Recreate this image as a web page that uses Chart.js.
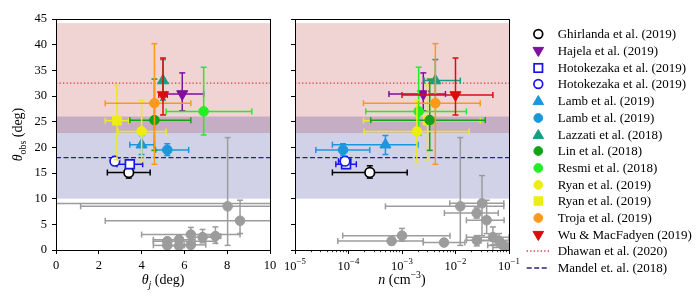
<!DOCTYPE html>
<html>
<head>
<meta charset="utf-8">
<title>theta_obs vs theta_j and n</title>
<script src="https://cdn.jsdelivr.net/npm/chart.js@4.4.1/dist/chart.umd.min.js"></script>
<style>
  html, body { margin:0; padding:0; background:#fff; }
  #wrap { position:relative; width:698px; height:305px; overflow:hidden; }
  #wrap canvas { position:absolute; top:0; }
  #left { left:0; }
  #right { left:270px; }
  #legend { position:absolute; left:520px; top:0; width:178px; height:305px;
            font-family:'Liberation Serif','DejaVu Serif',serif; font-size:13px; color:#000; }
  .row { position:absolute; left:0; width:178px; height:16px; }
  .row svg { position:absolute; left:0; top:0; }
  .row span { position:absolute; left:37.7px; top:0; line-height:16px; white-space:nowrap; }
</style>
</head>
<body>
<div id="wrap">
  <canvas id="left" width="282" height="305"></canvas>
  <canvas id="right" width="258" height="305"></canvas>
  <div id="legend"></div>
</div>
<script>
// GW170817 viewing angle estimates: theta_obs vs jet angle and vs density
const studies = ['Ghirlanda et al. (2019)', 'Hajela et al. (2019)', 'Hotokezaka et al. (2019)',
  'Hotokezaka et al. (2019)', 'Lamb et al. (2019)', 'Lamb et al. (2019)', 'Lazzati et al. (2018)',
  'Lin et al. (2018)', 'Resmi et al. (2018)', 'Ryan et al. (2019)', 'Ryan et al. (2019)',
  'Troja et al. (2019)', 'Wu & MacFadyen (2019)'];

const thetaJ     = [3.4, 5.9, 3.45, 2.75, 4.0, 5.2, 5.0, 4.6, 6.9, 4.0, 2.85, 4.6, 5.0];
const thetaJLo   = [2.4, 5.15, 2.85, 2.65, 3.45, 4.65, null, 3.45, 5.15, 2.9, 2.3, 2.3, 4.8];
const thetaJHi   = [4.4, 6.9, 4.05, 2.85, 4.6, 6.2, null, 6.3, 9.15, 5.15, 3.4, 6.3, 5.2];
const thetaObs   = [15.1, 30.4, 16.7, 17.3, 20.5, 19.5, 33.0, 25.3, 27.0, 23.1, 25.2, 28.6, 30.2];
const thetaObsLo = [14.0, 27.1, 15.9, 16.8, 18.6, 18.4, 29.2, 19.4, 22.4, 17.2, 17.6, 16.7, 26.3];
const thetaObsHi = [16.4, 34.5, 17.6, 18.2, 22.3, 20.7, 37.1, 33.3, 35.6, 29.2, 32.1, 40.2, 37.4];
const density    = [2.5e-4, 2.5e-3, 9.0e-5, 8.6e-5, 4.9e-4, 7.9e-5, 4.2e-3, 3.3e-3, 2.05e-3, 1.9e-3, 3.0e-3, 4.2e-3, 1.0e-2];
const densityLo  = [5.0e-5, 5.7e-4, 5.8e-5, 6.5e-5, 5.0e-5, 2.45e-5, 2.6e-3, 2.6e-4, 2.1e-4, 1.95e-4, 1.9e-4, 1.9e-4, 1.0e-3];
const densityHi  = [1.25e-3, 6.5e-3, 1.4e-4, 1.1e-4, 2.0e-3, 2.5e-4, 1.23e-2, 3.6e-2, 1.6e-2, 1.8e-2, 2.9e-2, 2.9e-2, 5.0e-2];

// grey sample (left panel)
const greyJ      = [8.02, 14.0, 8.6, 6.3, 6.85, 7.45, 5.2, 5.75, 6.3, 5.2, 5.75];
const greyJLo    = [1.15, -1.0, 2.3, 4.0, 6.3, 6.9, 4.55, 4.55, 5.6, 4.55, 5.2];
const greyJHi    = [14.0, 30.0, 12.0, 8.6, 7.5, 7.7, 7.5, 6.5, 7.0, 6.0, 6.3];
const greyObsL   = [8.5, 9.05, 5.7, 3.0, 2.5, 2.7, 1.7, 2.0, 1.0, 0.9, 0.8];
const greyObsLLo = [0.9, 6.5, 3.2, 1.5, 1.4, 1.3, 0.8, 1.0, 0.3, 0.3, 0.2];
const greyObsLHi = [21.9, 14.5, 9.7, 4.4, 4.0, 4.5, 2.4, 2.8, 1.6, 1.5, 1.4];
// grey sample (right panel)
const greyN      = [0.0123, 0.0313, 0.0249, 0.0382, 1.0e-3, 6.4e-4, 6.1e-3, 0.025, 0.05, 0.065, 0.078, 0.09];
const greyNLo    = [4.9e-4, 7.8e-3, 6.2e-3, 1.6e-2, 7.8e-5, 6.3e-5, 2.5e-3, 1.6e-2, 1.6e-2, 3.0e-2, 4.0e-2, 5.0e-2];
const greyNHi    = [8.0e-2, 8.0e-2, 6.3e-2, 8.1e-2, 7.9e-3, 2.5e-3, 1.5e-2, 0.1, 0.1, 0.2, 0.2, 0.2];
const greyObsR   = [8.5, 9.1, 7.2, 5.8, 2.8, 1.76, 1.45, 1.9, 2.5, 1.8, 0.9, 0.5];
const greyObsRLo = [0.9, 2.8, 6.2, 3.2, 1.7, 1.0, 0.8, 0.8, 1.0, 0.8, 0.2, 0.1];
const greyObsRHi = [21.9, 14.5, 8.2, 9.7, 4.2, 2.5, 2.2, 2.8, 4.5, 3.2, 1.6, 1.2];

// reference bands [lo, value, hi]
const dhawanBand = [22.8, 32.5, 44.2];
const mandelBand = [10.0, 18.0, 26.0];

const thetaJTicks   = [0, 2, 4, 6, 8, 10];
const thetaObsTicks = [0, 5, 10, 15, 20, 25, 30, 35, 40, 45];
const densityTicks  = [1e-5, 1e-4, 1e-3, 1e-2, 1e-1];

// styles
const colors  = ['#000000', '#7f0f9f', '#1616e8', '#1616e8', '#1b97dc', '#1b97dc', '#189e83',
                 '#15a315', '#22ee22', '#eded12', '#eded12', '#fb991b', '#dc0c0c'];
const markers = ['circle', 'tridown', 'rect', 'circle', 'triangle', 'circle', 'triangle',
                 'circle', 'circle', 'circle', 'rect', 'circle', 'tridown'];
const hollow  = [true, false, true, true, false, false, false, false, false, false, false, false, false];
// drawing layer (higher = drawn earlier / further back)
const layer   = [13, 12, 11, 10, 9, 8, 7, 6, 5, 4, 6.5, 2, 1];
const GREY = '#9c9c9c';
const DHAWAN_C = '#d23a3a';
const MANDEL_C = '#25257a';
const SERIF = "'Liberation Serif', 'DejaVu Serif', serif";

Chart.defaults.font.family = SERIF;
Chart.defaults.font.size = 12.5;
Chart.defaults.color = '#000';

function markerOpts(i){
  const m = markers[i];
  const style = m === 'tridown' ? 'triangle' : m;
  const r = m === 'circle' ? 4.8 : (m === 'rect' ? 6.2 : 6.4);
  return {
    pointStyle: style,
    pointRotation: m === 'tridown' ? 180 : 0,
    pointRadius: r,
    pointHoverRadius: r,
    pointBackgroundColor: hollow[i] ? '#ffffff' : colors[i],
    pointBorderColor: colors[i],
    pointBorderWidth: hollow[i] ? 1.7 : 1
  };
}

function buildDatasets(xs, xLo, xHi, gx, gxLo, gxHi, gy, gyLo, gyHi, xMin, xMax){
  const sets = [];
  sets.push({ type:'line', label:'Dhawan et al. (2020)', data:[{x:xMin, y:dhawanBand[1]}, {x:xMax, y:dhawanBand[1]}],
    borderColor: DHAWAN_C, borderWidth:1.3, borderDash:[1.3, 2.2], pointRadius:0, order:100 });
  sets.push({ type:'line', label:'Mandel et. al. (2018)', data:[{x:xMin, y:mandelBand[1]}, {x:xMax, y:mandelBand[1]}],
    borderColor: MANDEL_C, borderWidth:1.3, borderDash:[5, 2.5], pointRadius:0, order:99 });
  sets.push({
    label:'sample',
    data: gx.map((v, k) => ({x:v, y:gy[k], xLo:gxLo[k], xHi:gxHi[k], yLo:gyLo[k], yHi:gyHi[k]})),
    errorBars:true, errorColor:GREY,
    pointStyle:'circle', pointRadius:4.8, pointHoverRadius:4.8,
    pointBackgroundColor:GREY, pointBorderColor:GREY, pointBorderWidth:1,
    order:50, clip:0
  });
  studies.forEach((name, i) => {
    sets.push(Object.assign({
      label:name,
      data:[{x:xs[i], y:thetaObs[i], xLo:xLo[i], xHi:xHi[i], yLo:thetaObsLo[i], yHi:thetaObsHi[i]}],
      errorBars:true, errorColor:colors[i],
      order: layer[i], clip:0
    }, markerOpts(i)));
  });
  return sets;
}

function clipTo(ctx, a){
  ctx.beginPath(); ctx.rect(a.left, a.top, a.right - a.left, a.bottom - a.top); ctx.clip();
}

const bandsPlugin = {
  id:'bands',
  beforeDatasetsDraw(chart){
    const {ctx, chartArea:a, scales:{y}} = chart;
    ctx.save();
    clipTo(ctx, a);
    const band = (b, fill) => {
      const t = y.getPixelForValue(b[2]), btm = y.getPixelForValue(b[0]);
      ctx.fillStyle = fill;
      ctx.fillRect(a.left, t, a.right - a.left, btm - t);
    };
    band(dhawanBand, 'rgba(178,34,34,0.2)');
    band(mandelBand, 'rgba(0,0,128,0.18)');
    ctx.restore();
  }
};

const errorBarPlugin = {
  id:'errorBars',
  beforeDatasetDraw(chart, args){
    const ds = chart.data.datasets[args.index];
    if(!ds.errorBars) return;
    const {ctx, chartArea:a, scales:{x, y}} = chart;
    const cap = 3;
    ctx.save();
    clipTo(ctx, a);
    ctx.strokeStyle = ds.errorColor;
    ctx.lineWidth = 1.5;
    const seg = (x0, y0, x1, y1) => { ctx.beginPath(); ctx.moveTo(x0, y0); ctx.lineTo(x1, y1); ctx.stroke(); };
    ds.data.forEach(p => {
      const px = x.getPixelForValue(p.x), py = y.getPixelForValue(p.y);
      if(p.xLo != null){
        const x0 = x.getPixelForValue(p.xLo), x1 = x.getPixelForValue(p.xHi);
        seg(x0, py, x1, py);
        seg(x0, py - cap, x0, py + cap);
        seg(x1, py - cap, x1, py + cap);
      }
      if(p.yLo != null){
        const y0 = y.getPixelForValue(p.yLo), y1 = y.getPixelForValue(p.yHi);
        seg(px, y0, px, y1);
        seg(px - cap, y0, px + cap, y0);
        seg(px - cap, y1, px + cap, y1);
      }
    });
    ctx.restore();
  }
};

// draws text with italic / sub / superscript parts
function drawRich(ctx, parts, cx, baseY, size){
  const fontOf = p => `${p.it ? 'italic ' : ''}${(p.sub || p.sup) ? size * 0.7 : size}px ${SERIF}`;
  let total = 0;
  parts.forEach(p => { ctx.font = fontOf(p); p.w = ctx.measureText(p.t).width; total += p.w; });
  let x = cx - total / 2;
  ctx.textAlign = 'left';
  ctx.textBaseline = 'alphabetic';
  parts.forEach(p => {
    ctx.font = fontOf(p);
    const dy = p.sub ? size * 0.28 : (p.sup ? -size * 0.42 : 0);
    ctx.fillText(p.t, x, baseY + dy);
    x += p.w;
  });
}

const framePlugin = {
  id:'frame',
  afterDraw(chart, args, opts){
    const {ctx, chartArea:a} = chart;
    const al = v => Math.round(v - 0.5) + 0.5;
    ctx.save();
    ctx.strokeStyle = '#000';
    ctx.lineWidth = 1;
    ctx.strokeRect(al(a.left), al(a.top), al(a.right) - al(a.left), al(a.bottom) - al(a.top));
    ctx.fillStyle = '#000';
    const cx = (a.left + a.right) / 2;
    if(opts.kind === 'left'){
      drawRich(ctx, [{t:'θ', it:true}, {t:'j', it:true, sub:true}, {t:' (deg)'}], cx, a.bottom + 34, 14);
      ctx.save();
      ctx.translate(22, (a.top + a.bottom) / 2);
      ctx.rotate(-Math.PI / 2);
      drawRich(ctx, [{t:'θ', it:true}, {t:'obs', sub:true}, {t:' (deg)'}], 0, 0, 14);
      ctx.restore();
    } else {
      const x = chart.scales.x;
      // minor log ticks
      ctx.lineWidth = 0.8;
      for(let k = 0; k < densityTicks.length - 1; k++){
        for(let m = 2; m <= 9; m++){
          const px = al(x.getPixelForValue(m * densityTicks[k]));
          ctx.beginPath(); ctx.moveTo(px, a.bottom); ctx.lineTo(px, a.bottom + 2.2); ctx.stroke();
        }
      }
      densityTicks.forEach(v => {
        const e = Math.round(Math.log10(v));
        drawRich(ctx, [{t:'10'}, {t:(e < 0 ? '−' : '') + Math.abs(e), sup:true}], x.getPixelForValue(v), a.bottom + 19.5, 12.5);
      });
      drawRich(ctx, [{t:'n', it:true}, {t:' (cm'}, {t:'−3', sup:true}, {t:')'}], cx, a.bottom + 34, 14);
    }
    ctx.restore();
  }
};

function axisY(width, showLabels){
  return {
    type:'linear', min:0, max:45,
    afterBuildTicks: s => { s.ticks = thetaObsTicks.map(v => ({value:v})); },
    afterFit: s => { s.width = width; },
    ticks:{ display:showLabels, padding:5, font:{size:12.5} },
    grid:{ drawOnChartArea:false, drawTicks:true, tickLength:4, color:'#000', lineWidth:1 },
    border:{ display:true, color:'#000', width:1 }
  };
}

const commonOpts = {
  responsive:false, animation:false,
  plugins:{ legend:{display:false}, tooltip:{enabled:false} },
  events:[]
};

new Chart(document.getElementById('left'), {
  type:'scatter',
  data:{ datasets: buildDatasets(thetaJ, thetaJLo, thetaJHi, greyJ, greyJLo, greyJHi,
                                 greyObsL, greyObsLLo, greyObsLHi, 0, 10) },
  options:Object.assign({}, commonOpts, {
    layout:{ padding:{ left:0, right:12, top:19, bottom:0 } },
    plugins:{ legend:{display:false}, tooltip:{enabled:false}, frame:{kind:'left'} },
    scales:{
      x:{
        type:'linear', min:0, max:10,
        afterBuildTicks: s => { s.ticks = thetaJTicks.map(v => ({value:v})); },
        afterFit: s => { s.height = 55; },
        ticks:{ padding:4, maxRotation:0 },
        grid:{ drawOnChartArea:false, drawTicks:true, tickLength:4, color:'#000', lineWidth:1 },
        border:{ display:true, color:'#000', width:1 }
      },
      y: axisY(56, true)
    }
  }),
  plugins:[bandsPlugin, errorBarPlugin, framePlugin]
});

new Chart(document.getElementById('right'), {
  type:'scatter',
  data:{ datasets: buildDatasets(density, densityLo, densityHi, greyN, greyNLo, greyNHi,
                                 greyObsR, greyObsRLo, greyObsRHi, 1e-5, 1e-1) },
  options:Object.assign({}, commonOpts, {
    layout:{ padding:{ left:0, right:19, top:19, bottom:0 } },
    plugins:{ legend:{display:false}, tooltip:{enabled:false}, frame:{kind:'right'} },
    scales:{
      x:{
        type:'logarithmic', min:1e-5, max:1e-1,
        afterBuildTicks: s => { s.ticks = densityTicks.map(v => ({value:v})); },
        afterFit: s => { s.height = 55; },
        ticks:{ display:false },
        grid:{ drawOnChartArea:false, drawTicks:true, tickLength:4, color:'#000', lineWidth:1 },
        border:{ display:true, color:'#000', width:1 }
      },
      y: axisY(25, false)
    }
  }),
  plugins:[bandsPlugin, errorBarPlugin, framePlugin]
});

// legend
function markerSvg(i){
  const c = colors[i], f = hollow[i] ? '#fff' : c, sw = hollow[i] ? 1.7 : 1;
  const cx = 18.3, cy = 8;
  switch(markers[i]){
    case 'circle': return `<circle cx="${cx}" cy="${cy}" r="4.4" fill="${f}" stroke="${c}" stroke-width="${sw}"/>`;
    case 'rect': return `<rect x="${cx-4.2}" y="${cy-4.2}" width="8.4" height="8.4" fill="${f}" stroke="${c}" stroke-width="${sw}"/>`;
    case 'triangle': return `<polygon points="${cx},${cy-5.5} ${cx+5.3},${cy+3.6} ${cx-5.3},${cy+3.6}" fill="${f}" stroke="${c}"/>`;
    case 'tridown': return `<polygon points="${cx},${cy+5.5} ${cx+5.3},${cy-3.6} ${cx-5.3},${cy-3.6}" fill="${f}" stroke="${c}"/>`;
  }
  return '';
}
const legendEl = document.getElementById('legend');
const rows = studies.map((name, i) => ({name, svg:markerSvg(i)}));
rows.push({name:'Dhawan et al. (2020)', svg:`<line x1="6.7" y1="8" x2="29.3" y2="8" stroke="${DHAWAN_C}" stroke-width="1.3" stroke-dasharray="1.3 2.2"/>`});
rows.push({name:'Mandel et. al. (2018)', svg:`<line x1="6.7" y1="8" x2="29.3" y2="8" stroke="${MANDEL_C}" stroke-width="1.3" stroke-dasharray="5 2.5"/>`});
legendEl.innerHTML = rows.map((r, i) =>
  `<div class="row" style="top:${(34.3 + i * 16.7 - 8).toFixed(1)}px">` +
  `<svg width="36" height="16" viewBox="0 0 36 16">${r.svg}</svg><span>${r.name.replace('&', '&amp;')}</span></div>`
).join('');
</script>
</body>
</html>
